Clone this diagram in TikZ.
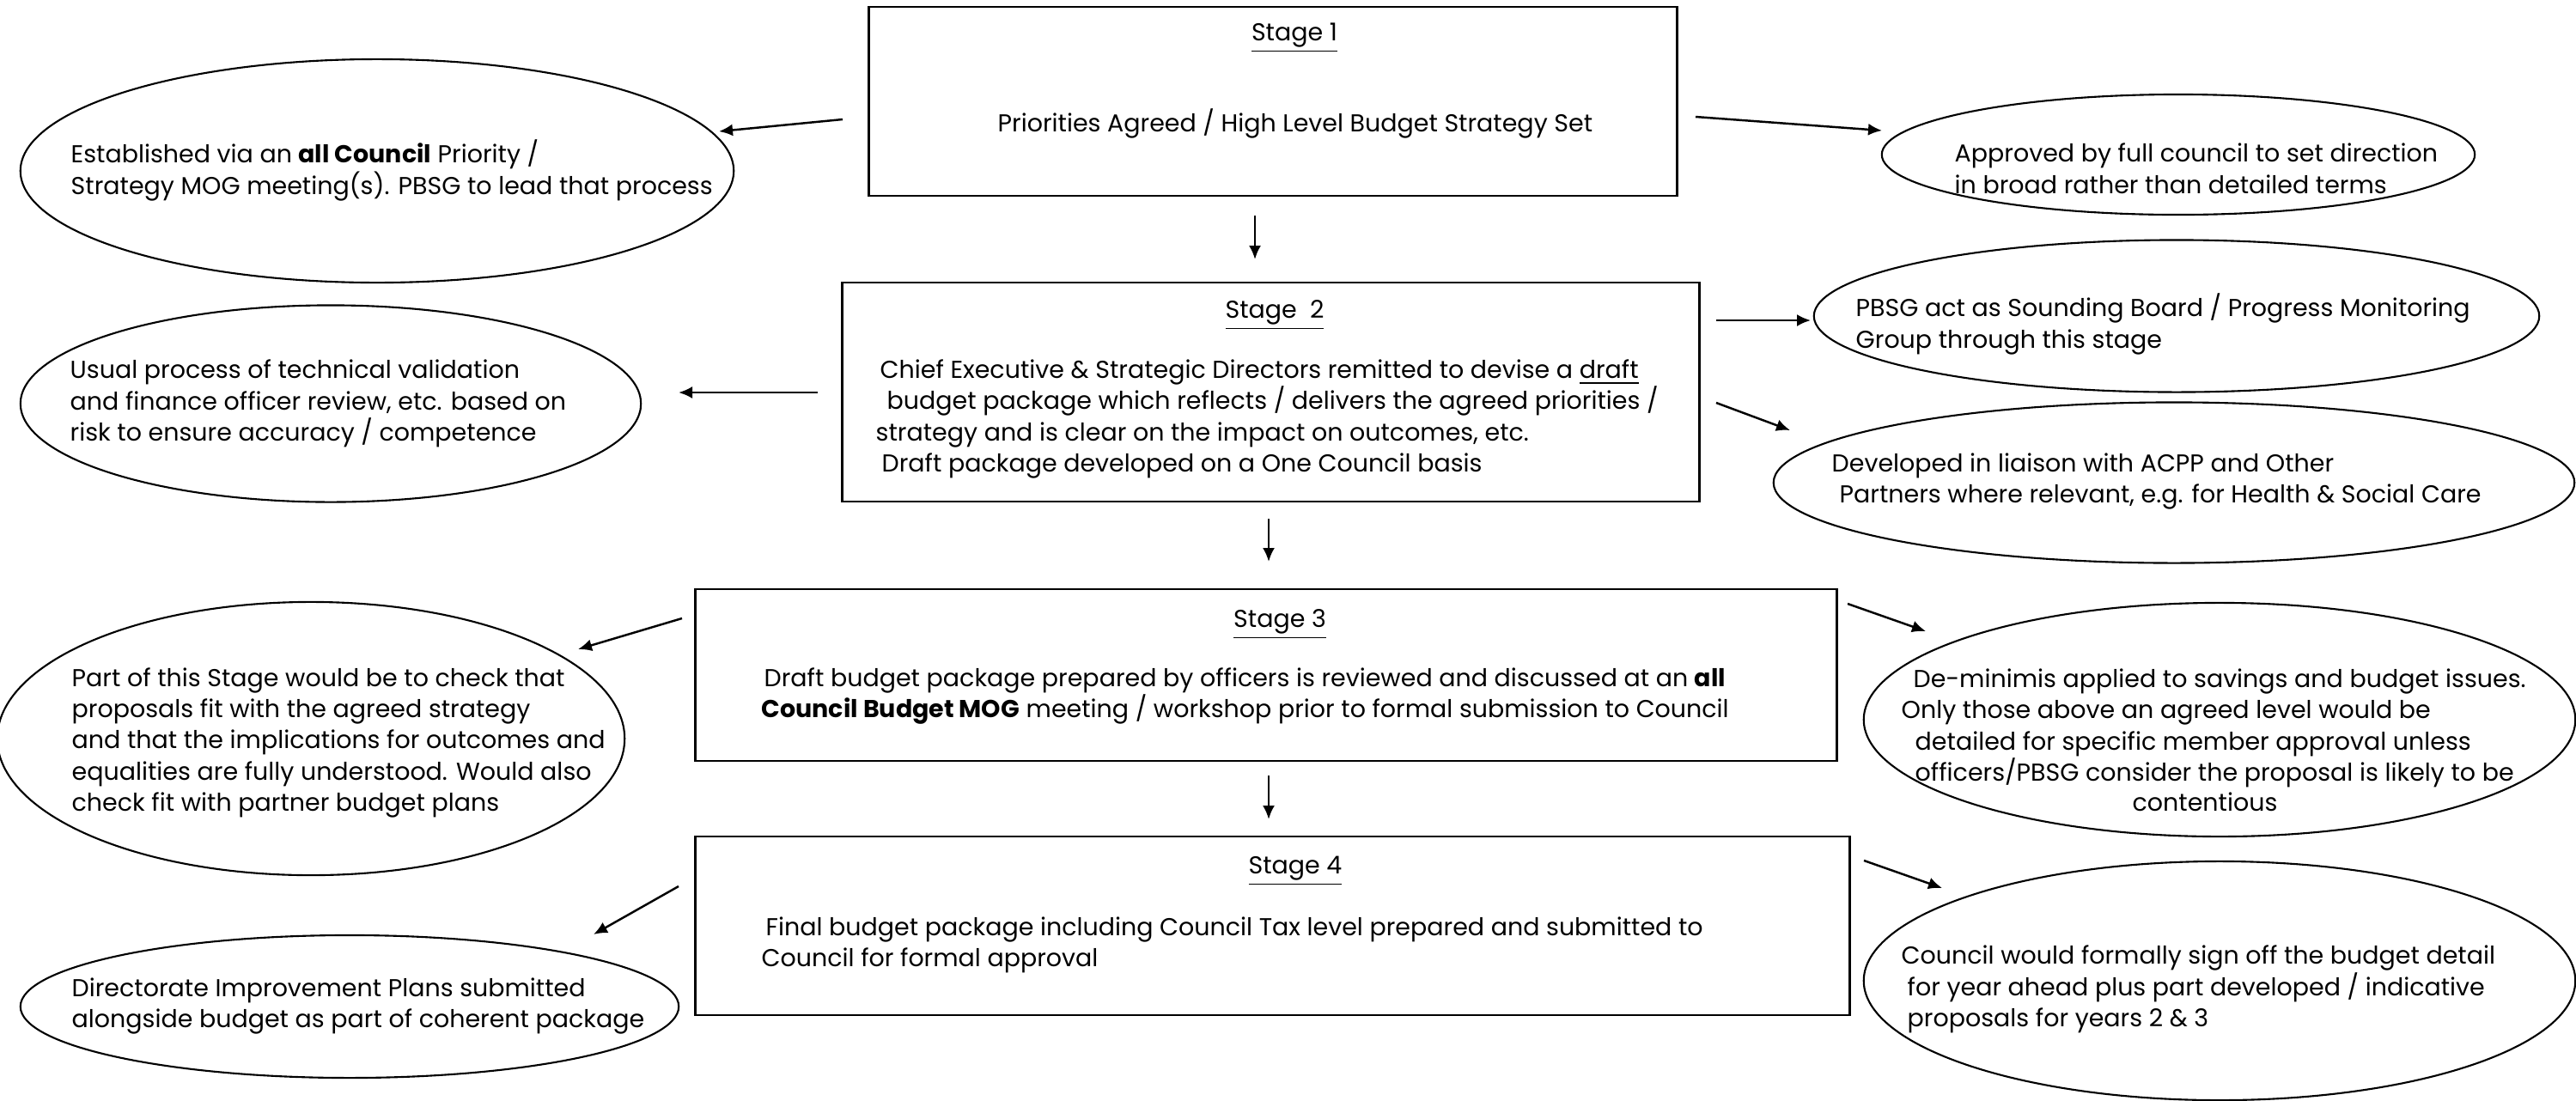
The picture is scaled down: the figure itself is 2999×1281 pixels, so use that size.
\documentclass[tikz,border=0pt]{standalone}
\usepackage{fontspec}
\setmainfont{Poppins}
\usetikzlibrary{shapes.geometric,arrows.meta}

\begin{document}
\begin{tikzpicture}[x=0.01cm,y=-0.01cm,
    etape/.style={draw,rectangle,line width=0.8pt,inner sep=0pt},
    bulle/.style={draw,ellipse,line width=0.6pt,inner sep=0pt},
    texte/.style={anchor=base west,align=left,inner sep=0pt,font=\fontsize{8.1}{10.24}\selectfont},
    titre/.style={anchor=base,inner sep=0pt,font=\fontsize{8.1}{10.24}\selectfont},
    fleche/.style={-{Latex[length=0.16cm,width=0.14cm]},line width=0.7pt}]
            \useasboundingbox (0,0) rectangle (2999,1281);%Pour le cadre
            \node[etape,minimum width=9.40cm,minimum height=2.20cm] (s1) at (1482,118) {};
            \node[etape,minimum width=9.97cm,minimum height=2.55cm] (s2) at (1479.5,456.5) {};
            \node[etape,minimum width=13.28cm,minimum height=2.00cm] (s3) at (1474,786) {};
            \node[etape,minimum width=13.43cm,minimum height=2.08cm] (s4) at (1481.5,1078) {};
            \node[titre] (t1) at (1507,47) {\underline{Stage 1}};
            \node[texte] (b1) at (1161,153) {Priorities Agreed / High Level Budget Strategy Set};
            \node[titre] (t2) at (1484,370) {\underline{Stage~~2}};
            \node[texte] (b2) at (1019,549) {\hspace*{0.05cm}Chief Executive \& Strategic Directors remitted to devise a \underline{draft}\\
                \hspace*{0.13cm}budget package which reflects / delivers the agreed priorities /\\
                strategy and is clear on the impact on outcomes, etc.\\
                \hspace*{0.07cm}Draft package developed on a One Council basis};%base = derniere ligne
            \node[titre] (t3) at (1490,730) {\underline{Stage 3}};
            \node[texte] (b3) at (886,835) {\hspace*{0.03cm}Draft budget package prepared by officers is reviewed and discussed at an \textbf{all}\\
                \textbf{Council Budget MOG} meeting / workshop prior to formal submission to Council};
            \node[titre] (t4) at (1508,1017) {\underline{Stage 4}};
            \node[texte] (b4) at (886,1125) {\hspace*{0.05cm}Final budget package including Council Tax level prepared and submitted to\\
                Council for formal approval};
            \node[bulle,minimum width=8.30cm,minimum height=2.60cm] (e1) at (439,199) {};
            \node[bulle,minimum width=7.22cm,minimum height=2.29cm] (e2) at (385,470) {};
            \node[bulle,minimum width=7.30cm,minimum height=3.18cm] (e3) at (362,860) {};
            \node[bulle,minimum width=7.66cm,minimum height=1.66cm] (e4) at (407,1172) {};
            \node[bulle,minimum width=6.90cm,minimum height=1.40cm] (r1) at (2536,180) {};
            \node[bulle,minimum width=8.44cm,minimum height=1.77cm] (r2) at (2534,368) {};
            \node[bulle,minimum width=9.32cm,minimum height=1.87cm] (r3) at (2531,562) {};
            \node[bulle,minimum width=8.28cm,minimum height=2.72cm] (r4) at (2584,838) {};
            \node[bulle,minimum width=8.28cm,minimum height=2.78cm] (r5) at (2584,1142) {};
            \node[texte] (te1) at (82,226) {Established via an \textbf{all Council} Priority /\\
                Strategy MOG meeting(s). PBSG to lead that process};
            \node[texte] (te2) at (81,513) {Usual process of technical validation\\
                and finance officer review, etc. based on\\
                risk to ensure accuracy / competence};
            \node[texte] (te3) at (83,944) {Part of this Stage would be to check that\\
                proposals fit with the agreed strategy\\
                and that the implications for outcomes and\\
                equalities are fully understood. Would also\\
                check fit with partner budget plans};
            \node[texte] (te4) at (83,1196) {Directorate Improvement Plans submitted\\
                alongside budget as part of coherent package};
            \node[texte] (tr1) at (2275,225) {Approved by full council to set direction\\
                in broad rather than detailed terms};
            \node[texte] (tr2) at (2160,405) {PBSG act as Sounding Board / Progress Monitoring\\
                Group through this stage};
            \node[texte] (tr3) at (2132,585) {Developed in liaison with ACPP and Other\\
                \hspace*{0.09cm}Partners where relevant, e.g. for Health \& Social Care};
            \node[texte] (tr4) at (2213,909) {\hspace*{0.14cm}De-minimis applied to savings and budget issues.\\
                Only those above an agreed level would be\\
                \hspace*{0.16cm}detailed for specific member approval unless\\
                \hspace*{0.16cm}officers/PBSG consider the proposal is likely to be};
            \node[titre] (tr4b) at (2567,944) {contentious};
            \node[texte] (tr5) at (2213,1195) {Council would formally sign off the budget detail\\
                \hspace*{0.07cm}for year ahead plus part developed / indicative\\
                \hspace*{0.07cm}proposals for years 2 \& 3};
            \coordinate (d12) at (1461,251); \coordinate (f12) at (1461,302);
            \coordinate (d23) at (1477,604); \coordinate (f23) at (1477,654);
            \coordinate (d34) at (1477,903); \coordinate (f34) at (1477,954);
            \coordinate (de1) at (981,139);  \coordinate (fe1) at (837,153);
            \coordinate (dr1) at (1974,136); \coordinate (fr1) at (2191,152);
            \coordinate (de2) at (952,457);  \coordinate (fe2) at (790,457);
            \coordinate (dr2) at (1998,373); \coordinate (fr2) at (2108,373);
            \coordinate (dr3) at (1998,469); \coordinate (fr3) at (2084,501);
            \coordinate (de3) at (794,720);  \coordinate (fe3) at (673,756);
            \coordinate (de4) at (790,1032); \coordinate (fe4) at (691,1088);
            \coordinate (dr4) at (2151,703); \coordinate (fr4) at (2242,735);
            \coordinate (dr5) at (2170,1002);\coordinate (fr5) at (2261,1034);
            \draw[fleche] (d12)--(f12);
            \draw[fleche] (d23)--(f23);
            \draw[fleche] (d34)--(f34);
            \draw[fleche] (de1)--(fe1);
            \draw[fleche] (dr1)--(fr1);
            \draw[fleche] (de2)--(fe2);
            \draw[fleche] (dr2)--(fr2);
            \draw[fleche] (dr3)--(fr3);
            \draw[fleche] (de3)--(fe3);
            \draw[fleche] (de4)--(fe4);
            \draw[fleche] (dr4)--(fr4);
            \draw[fleche] (dr5)--(fr5);
        \end{tikzpicture}
\end{document}
